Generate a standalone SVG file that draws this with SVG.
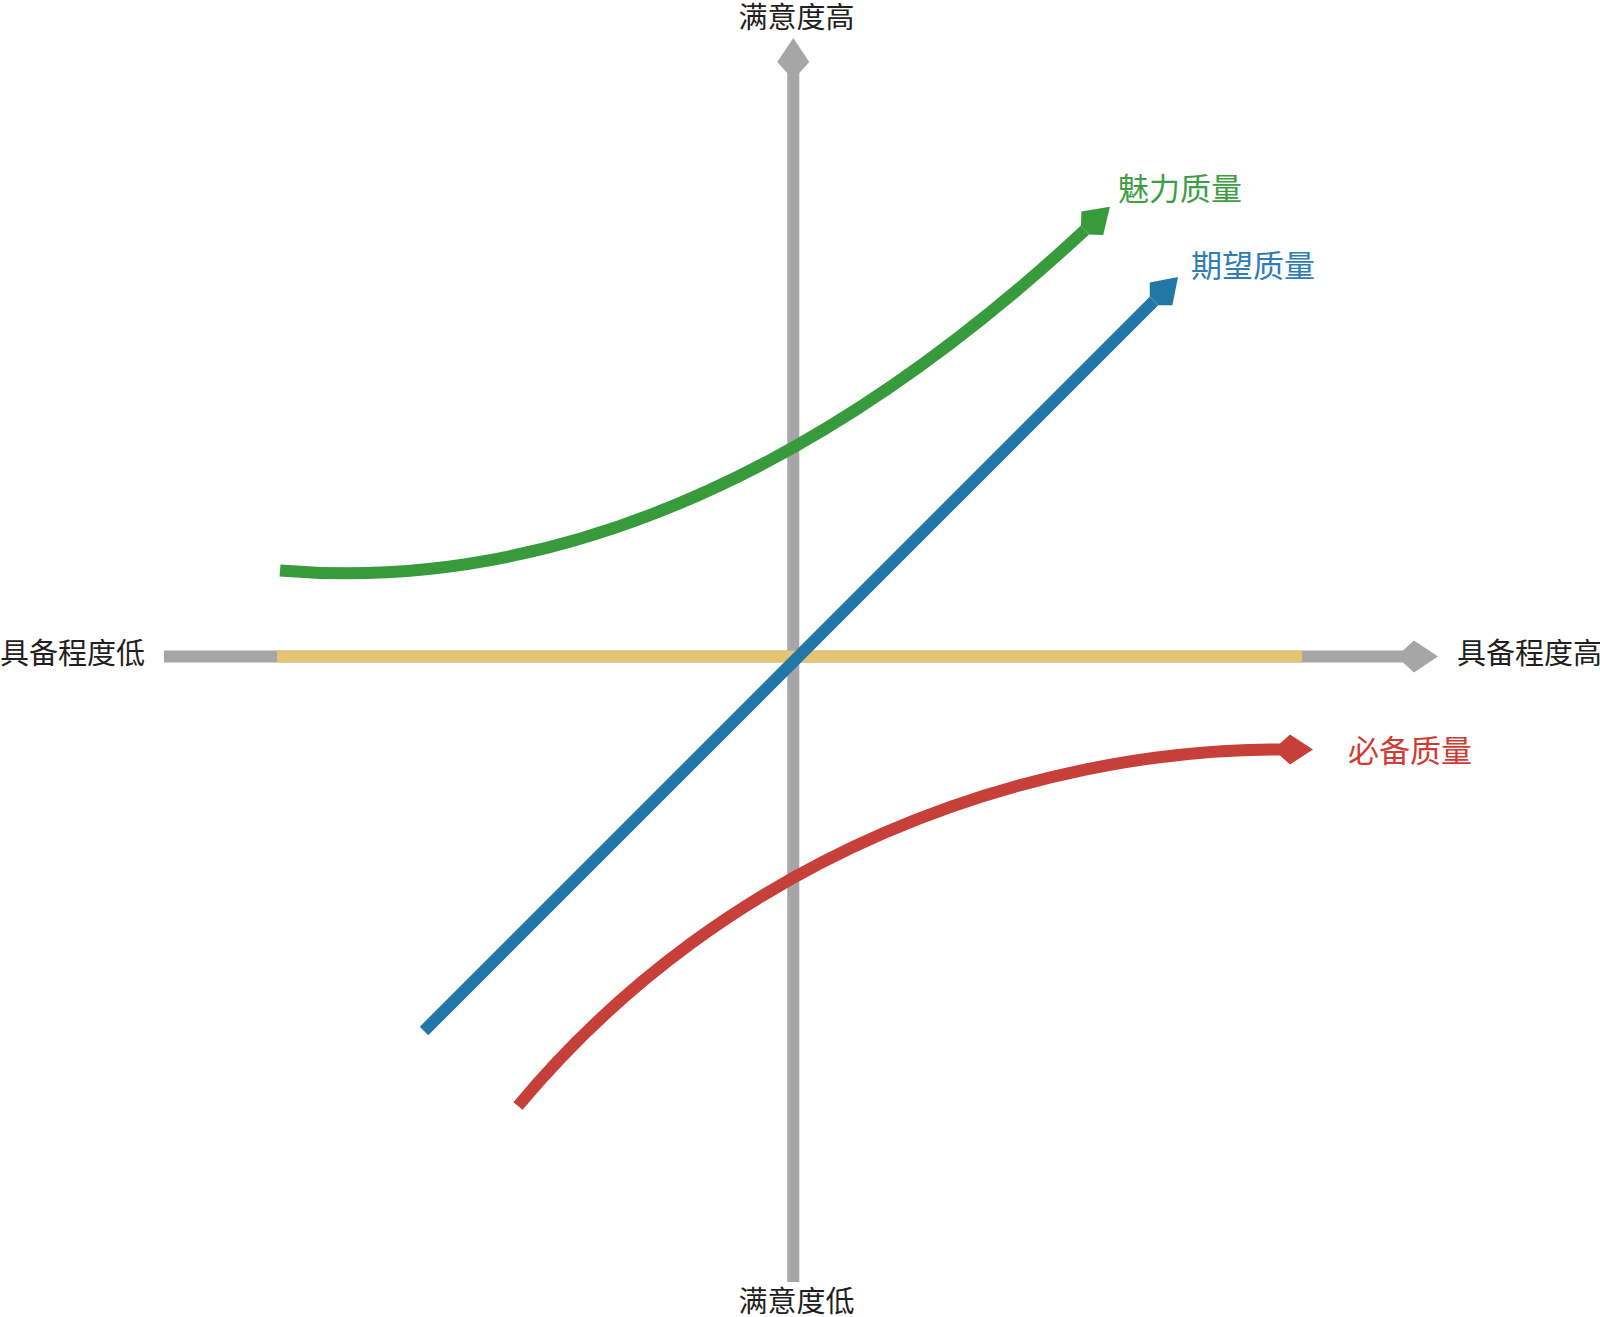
<svg xmlns="http://www.w3.org/2000/svg" width="1600" height="1317" viewBox="0 0 1600 1317">
<style>
.lbl{font-family:"Noto Sans CJK SC","Noto Sans",sans-serif;}
.axis-lbl{font-size:29px;fill:#231f20;}
.q-lbl{font-size:31px;}
.ln{fill:none;stroke-width:12;stroke-linecap:butt;}
</style>
<defs>
<marker id="ah-gray" markerUnits="userSpaceOnUse" viewBox="-2 -18 42 36" markerWidth="42" markerHeight="36" refX="0" refY="0" orient="auto" overflow="visible"><path d="M0,-6 L11,-16 L35,0 L11,16 L0,6 Z" fill="#a6a6a6"/></marker>
<marker id="ah-green" markerUnits="userSpaceOnUse" viewBox="-2 -18 42 36" markerWidth="42" markerHeight="36" refX="0" refY="0" orient="auto" overflow="visible"><path d="M0,-6 L10,-16 L34,0 L10,16 L0,6 Z" fill="#379b3c"/></marker>
<marker id="ah-blue" markerUnits="userSpaceOnUse" viewBox="-2 -18 42 36" markerWidth="42" markerHeight="36" refX="0" refY="0" orient="auto" overflow="visible"><path d="M0,-6 L10,-16 L34,0 L10,16 L0,6 Z" fill="#2177a6"/></marker>
<marker id="ah-red" markerUnits="userSpaceOnUse" viewBox="-2 -18 42 36" markerWidth="42" markerHeight="36" refX="0" refY="0" orient="auto" overflow="visible"><path d="M0,-6 L10,-15 L33,0 L10,15 L0,6 Z" fill="#c63f38"/></marker>
</defs>
<g id="connectors">
<path id="axis-x" class="ln" stroke="#a6a6a6" d="M164,656.5 L1403,656.5" marker-end="url(#ah-gray)"/>
<path id="axis-y" class="ln" stroke="#a6a6a6" d="M793.3,1282 L793.3,73" marker-end="url(#ah-gray)"/>
<path id="baseline-yellow" class="ln" stroke="#e4c373" d="M277,656.5 L1302,656.5"/>
<path id="curve-must" class="ln" stroke="#c63f38" d="M518,1106 C729.2,852.6 1030,749.5 1280,749.5" marker-end="url(#ah-red)"/>
<path id="curve-expected" class="ln" stroke="#2177a6" d="M424,1031 L1154,301" marker-end="url(#ah-blue)"/>
<path id="curve-attractive" class="ln" stroke="#379b3c" d="M280,570.5 Q682.5,603.8 1085,230" marker-end="url(#ah-green)"/>
</g>
<g id="label-y-high"><text class="lbl axis-lbl" x="796.5" y="28" text-anchor="middle">满意度高</text></g>
<g id="label-y-low"><text class="lbl axis-lbl" x="796.5" y="1312" text-anchor="middle">满意度低</text></g>
<g id="label-x-low"><text class="lbl axis-lbl" x="0" y="664">具备程度低</text></g>
<g id="label-x-high"><text class="lbl axis-lbl" x="1457" y="664">具备程度高</text></g>
<g id="label-attractive"><text class="lbl q-lbl" x="1118" y="200" fill="#3d9e44">魅力质量</text></g>
<g id="label-expected"><text class="lbl q-lbl" x="1191" y="277" fill="#2f7db5">期望质量</text></g>
<g id="label-must"><text class="lbl q-lbl" x="1348" y="762" fill="#d03b34">必备质量</text></g>
</svg>
